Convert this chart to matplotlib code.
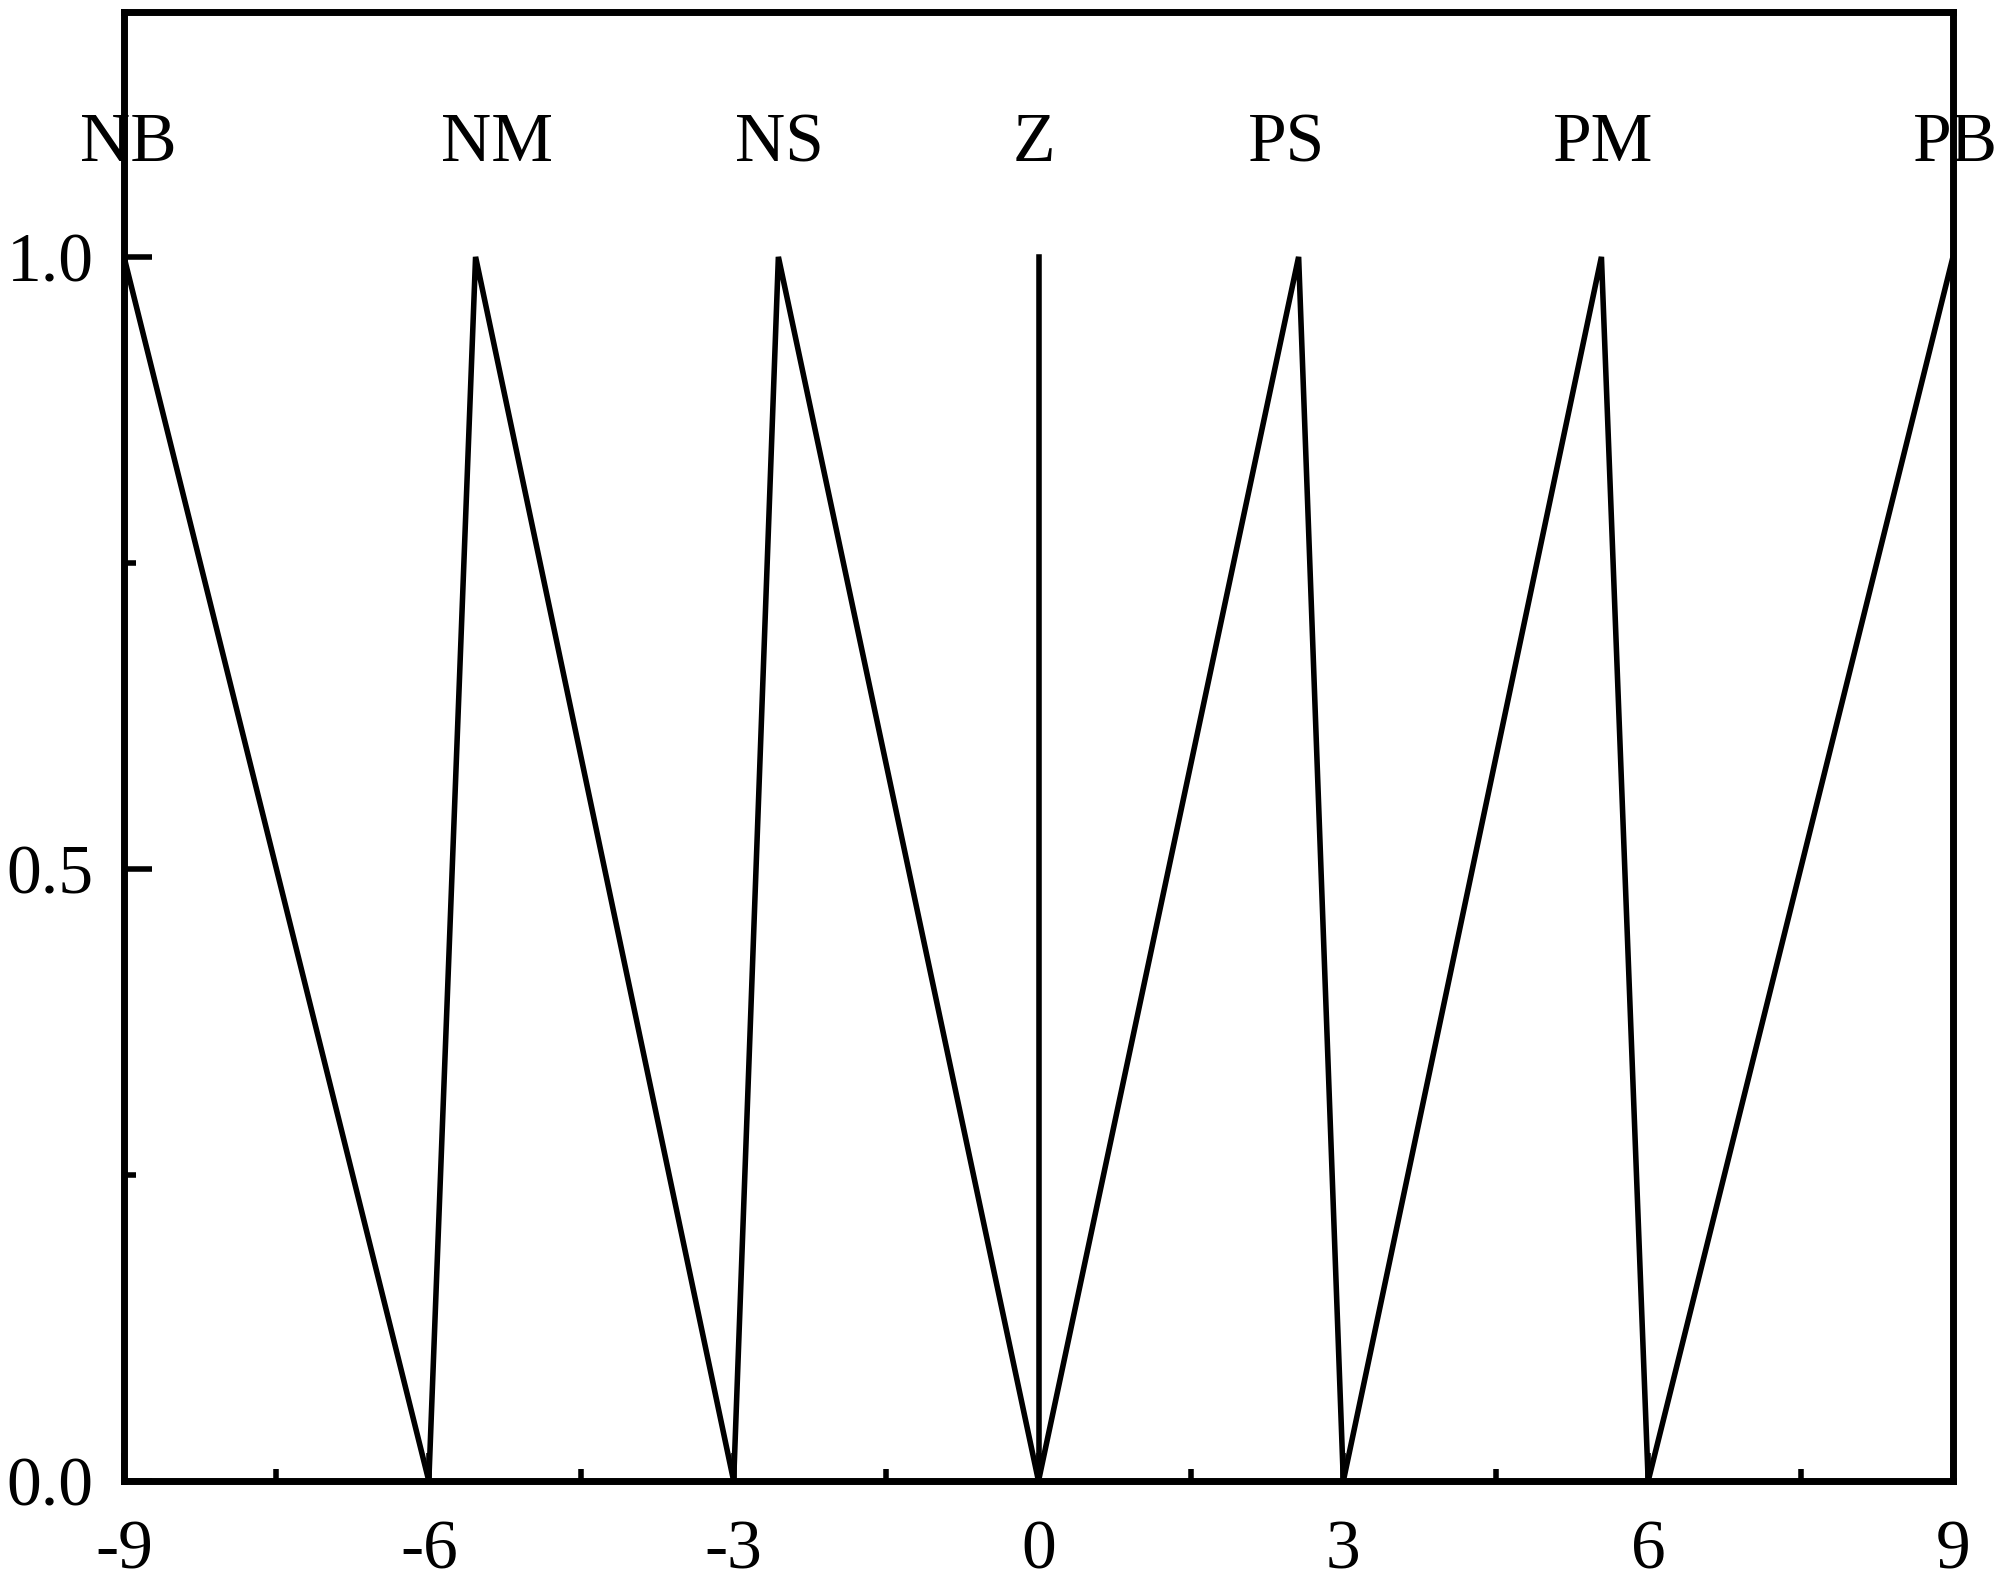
import matplotlib
matplotlib.use("Agg")
import matplotlib.pyplot as plt
from matplotlib.ticker import MultipleLocator

# fuentes y estilo
plt.rcParams['font.family'] = ['Liberation Serif', 'DejaVu Serif']
plt.rcParams['axes.unicode_minus'] = False

# funciones de pertenencia (vértices)
nb_x = [-9, -6]
nb_y = [1, 0]
nm_x = [-6, -5.54, -3]
nm_y = [0, 1, 0]
ns_x = [-3, -2.56, 0]
ns_y = [0, 1, 0]
z_x = [0, 0]
z_y = [0, 1]
ps_x = [0, 2.56, 3]
ps_y = [0, 1, 0]
pm_x = [3, 5.54, 6]
pm_y = [0, 1, 0]
pb_x = [6, 9]
pb_y = [0, 1]

# etiquetas de los conjuntos
etiquetas = ['NB', 'NM', 'NS', 'Z', 'PS', 'PM', 'PB']
etiq_x = [-8.96, -5.33, -2.55, -0.05, 2.44, 5.56, 9.02]
etiq_y = 1.078

fig = plt.figure(figsize=(20, 15.85), dpi=100)
ax = fig.add_axes([0.062, 0.0656, 0.9145, 0.9268])

for xs, ys in [(nb_x, nb_y), (nm_x, nm_y), (ns_x, ns_y), (z_x, z_y),
               (ps_x, ps_y), (pm_x, pm_y), (pb_x, pb_y)]:
    ax.plot(xs, ys, color='black', linewidth=4.0, solid_joinstyle='miter')

for txt, x in zip(etiquetas, etiq_x):
    ax.text(x, etiq_y, txt, fontsize=50, ha='center', va='baseline')

ax.set_xlim(-9, 9)
ax.set_ylim(0, 1.2)
ax.xaxis.set_major_locator(MultipleLocator(3))
ax.xaxis.set_minor_locator(MultipleLocator(1.5))
ax.set_yticks([0.0, 0.5, 1.0])
ax.set_yticklabels(['0.0', '0.5', '1.0'])
ax.yaxis.set_minor_locator(MultipleLocator(0.25))

ax.tick_params(which='both', direction='in', top=False, right=False,
               labelsize=50)
ax.tick_params(axis='x', pad=28)
ax.tick_params(axis='y', pad=22)
ax.tick_params(which='major', length=20, width=4.0)
ax.tick_params(which='minor', length=8.5, width=4.0)

for s in ax.spines.values():
    s.set_linewidth(5.0)

fig.savefig('out.png', dpi=100)
